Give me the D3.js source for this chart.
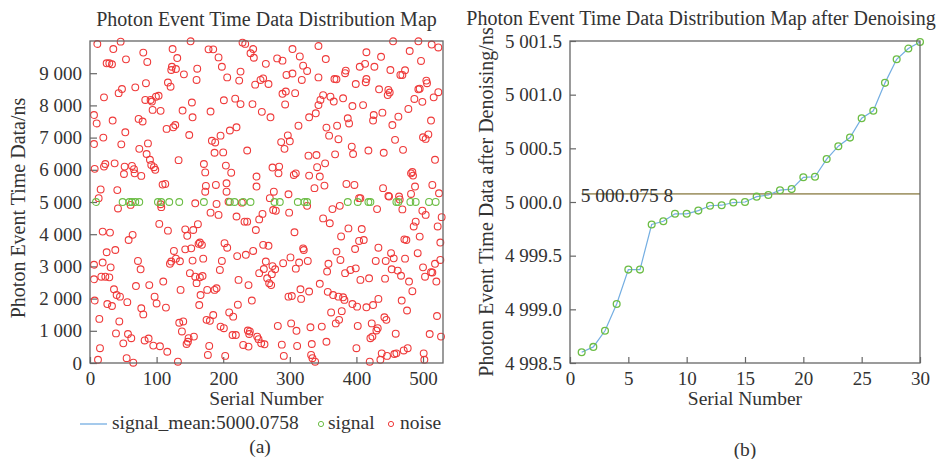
<!DOCTYPE html>
<html>
<head>
<meta charset="utf-8">
<script src="https://cdn.jsdelivr.net/npm/d3@7"></script>
<style>
body { margin: 0; background: #fff; }
text { font-family: "Liberation Serif", "DejaVu Serif", serif; fill: #333; }
.frame { fill: none; stroke: #666; stroke-width: 1.3; }
.axis path { display: none; }
.axis line { stroke: #666; stroke-width: 1.2; }
.axis text { font-size: 19px; font-family: "Liberation Serif", serif; fill: #333; }
</style>
</head>
<body>
<div id="chartArea"></div>
<script>
///////////////////////////// DATA /////////////////////////////////////

// [serial number, time (ns)]
var noisePoints = [
    [11,9907],[46,9980],[151,9990],[229,9950],[233,9910],[455,9990],[493,9990],[513,9890],[523,9800],[35,9750],[178,9740],[185,9740],[245,9750],[304,9750],[343,9845],[480,9690],[415,9650],[80,9640],[25,9307],[29,9307],[33,9276],[54,9430],[86,9350],[124,9750],[131,9470],[193,9490],[241,9620],[246,9480],[264,9290],[281,9460],[289,9390],[315,9520],[320,9235],[326,9070],[354,9440],[405,9200],[413,9290],[427,9200],[437,9510],[497,9380],
    [123,9200],[122,9100],[129,9130],[141,8965],[161,9140],[160,8790],[198,9200],[206,8870],[224,8770],[226,9050],[248,8645],[256,8790],[260,8840],[268,8665],[295,8945],[304,8990],[318,8790],[343,8870],[367,8820],[370,8810],[384,9080],[383,9000],[451,9100],[466,8945],[469,8945],[473,9090],[505,8770],[506,8690],[495,8520],[493,8500],[415,8820],[414,8720],[399,8665],
    [68,8560],[84,8690],[117,8710],[121,8580],[48,8510],[43,8380],[21,8250],[83,8170],[91,8170],[93,8120],[99,8270],[103,8300],[153,8090],[201,8160],[218,8210],[226,8040],[244,8040],[289,8360],[294,8430],[293,8030],[308,8380],[350,8320],[346,8170],[343,8010],[361,8270],[366,8120],[380,8220],[394,7980],[410,8010],[434,8500],[448,8480],[447,8320],[450,8400],[487,8200],[499,8110],[516,8250],[523,8410],
    [6,7700],[10,7440],[34,7530],[73,7580],[79,7500],[94,7860],[106,7830],[139,7840],[154,7630],[181,7810],[258,7800],[271,7630],[329,7630],[339,7755],[387,7600],[389,7440],[426,7700],[425,7530],[439,7775],[463,7650],[478,7890],[512,7530],
    [115,7270],[125,7320],[128,7390],[149,7080],[53,7165],[20,7000],[6,6800],[47,6790],[87,6820],[74,6650],[183,6900],[188,6850],[196,7060],[210,7220],[220,7320],[313,7370],[355,7310],[359,7060],[371,7370],[373,6950],[297,7070],[287,6860],[300,6885],[292,6650],[236,6600],[187,6530],[200,6540],[393,6720],[395,6490],[418,6600],[441,6530],[458,6930],[470,6620],[500,7010],[504,6960],[508,7100],[454,7390],
    [85,6490],[90,6310],[133,6300],[92,6150],[96,6080],[98,6000],[37,6200],[23,6180],[21,6100],[7,6030],[52,6100],[63,6120],[66,6020],[67,5890],[51,5870],[77,5810],[171,6180],[173,5920],[204,6130],[212,5910],[250,5790],[274,6070],[284,6100],[283,5890],[306,5840],[309,5890],[329,5820],[341,6080],[345,5790],[353,6200],[368,6480],[328,6440],[340,6460],[482,5890],[484,5930],[485,5820],[518,6310],
    [16,5390],[41,5370],[109,5540],[113,5560],[174,5500],[173,5320],[189,5530],[205,5580],[205,5320],[250,5480],[276,5320],[298,5240],[337,5430],[352,5510],[385,5560],[397,5530],[404,5120],[440,5430],[448,5190],[464,5170],[482,5250],[488,5480],[514,5530],[524,5270],[13,5120],
    [42,4800],[61,4910],[107,4840],[106,4930],[158,4960],[190,4940],[193,4600],[181,4670],[208,5010],[228,4980],[220,4550],[232,4390],[236,4390],[249,4130],[254,4460],[259,4630],[270,5120],[275,4750],[279,4730],[299,4670],[326,4880],[350,4490],[360,4340],[364,4780],[375,4880],[406,5120],[431,4780],[449,5170],[465,5080],[469,4770],[499,4730],[504,4600],[528,4530],[489,4390],[486,4240],[522,4240],[526,3740],
    [19,4080],[30,4050],[58,3820],[64,3980],[104,4320],[117,4110],[143,4150],[146,3950],[155,4130],[162,4310],[307,4060],[377,3930],[388,4180],[408,4160],[404,3790],[411,3820],[398,3540],[433,3580],[452,3410],[456,3250],[472,3840],[475,3820],[495,3925],[492,3410],[473,3240],[500,2970],[512,2820],[518,3080],[526,3200],
    [25,3440],[38,3510],[72,3170],[76,2910],[126,3480],[120,3080],[122,3150],[129,3240],[135,3160],[143,3530],[152,3560],[165,3740],[163,3700],[168,3670],[170,3240],[154,3180],[150,2790],[158,2680],[160,2480],[165,2660],[169,2700],[195,2890],[198,3170],[202,3720],[206,3580],[221,3320],[234,3360],[245,3480],[260,3670],[268,3640],[264,3150],[274,3010],[261,2920],[278,2910],[273,2760],[266,2630],[269,2480],[272,2420],[254,2790],[238,2420],[223,2580],[290,3100],[301,3280],[314,3120],[309,2930],[321,3510],[320,3560],[327,3170],[358,3080],[356,2840],[370,3460],[376,3200],[383,2790],[391,2890],[399,2940],[406,2580],[419,2630],[429,3170],[444,3170],[443,2620],[453,2910],[462,2870],[467,2710],[479,2530],[484,2230],[503,2680],[514,2810],[520,2530],
    [6,3050],[19,3120],[31,2970],[6,2600],[17,2680],[23,2680],[29,2660],[36,2290],[40,2110],[45,2060],[69,2390],[89,2420],[110,2530],[136,2270],[166,2110],[176,2270],[187,2270],[190,2320],[298,2060],[303,2080],[317,1990],[316,2290],[329,2220],[345,2460],[357,2210],[365,2110],[373,2060],[380,2040],[382,1960],[394,1830],[401,1750],[415,1730],[425,1800],[433,1990],[468,1940],
    [7,1940],[26,1830],[33,1770],[56,1890],[77,1700],[80,1510],[97,2060],[100,1850],[114,1720],[164,1800],[222,1810],[243,1940],[185,1490],[175,1340],[180,1310],[196,1130],[201,1080],[209,1570],[215,1440],[214,870],[219,870],[237,1010],[240,980],[239,900],[251,820],[253,740],[262,580],[282,1150],[302,1230],[310,1000],[331,1110],[348,1130],[355,660],[362,1570],[369,1230],[378,1610],[374,1340],[402,1150],[423,1230],[430,1010],[432,1080],[442,1420],[445,1340],[459,910],[476,1630],[521,1460],
    [14,1370],[44,1290],[39,920],[57,900],[62,770],[50,610],[82,700],[88,760],[95,540],[105,520],[116,350],[134,1250],[140,1290],[138,980],[148,770],[147,660],[145,590],[156,820],[179,530],[177,250],[203,220],[230,560],[238,510],[257,610],[288,570],[291,220],[311,530],[332,250],[334,150],[338,40],[333,590],[400,460],[421,770],[424,820],[420,40],[438,300],[436,100],[446,220],[457,280],[460,300],[471,390],[477,460],[501,300],[502,100],[510,900],[527,820],[15,460],[12,100],[55,150],[65,10],[132,40]
];

// serial numbers of the signal photons (green row at ~5000 ns)
var signalSerial = [9, 49, 59, 63, 68, 74, 102, 107, 119, 134, 171, 210, 217, 230, 241, 277, 285, 312, 322, 326, 387, 402, 418, 421, 460, 463, 481, 489, 509, 519];

// sorted signal times after denoising (right panel), serial 1..30
var denoisedTime = [4998.60, 4998.65, 4998.80, 4999.05, 4999.37, 4999.37, 4999.79, 4999.82, 4999.89, 4999.89,
    4999.92, 4999.965, 4999.97, 4999.995, 5000.00, 5000.05, 5000.065, 5000.11, 5000.12, 5000.23,
    5000.235, 5000.40, 5000.52, 5000.60, 5000.78, 5000.85, 5001.11, 5001.33, 5001.43, 5001.49];

var signalMean = 5000.0758;
var meanLabel = "5 000.075 8";

var xTicksLeft = [0, 100, 200, 300, 400, 500];
var yTicksLeft = [0, 1000, 2000, 3000, 4000, 5000, 6000, 7000, 8000, 9000];
var xTicksRight = [0, 5, 10, 15, 20, 25, 30];
var yTicksRight = [4998.5, 4999.0, 4999.5, 5000.0, 5000.5, 5001.0, 5001.5];

var legendLabels = ["signal_mean:5000.0758", "signal", "noise"];

var colorNoise = "#ef3a3a",
    colorSignal = "#6cbd45",
    colorLine = "#74aee2",
    colorMean = "#a79c72";

var spaceFormat = d3.formatLocale({ decimal: ".", thousands: " ", grouping: [3], currency: ["", ""] });

///////////////////////////// SVG /////////////////////////////////////

var svg = d3.select("#chartArea").append("svg")
    .attr("width", 939)
    .attr("height", 459);

svg.append("rect").attr("width", 939).attr("height", 459).attr("fill", "#fff");

///////////////////////////// LEFT PANEL /////////////////////////////////////

margin_left = { top: 41, left: 90 },
    width_left = 353,
    height_left = 322;

x_left = d3.scaleLinear().domain([0, 530]).range([0, width_left]);
y_left = d3.scaleLinear().domain([0, 10000]).range([height_left, 0]);

var left = svg.append("g")
    .attr("transform", "translate(" + margin_left.left + "," + margin_left.top + ")");

left.append("g")
    .attr("class", "axis")
    .attr("transform", "translate(0," + height_left + ")")
    .call(d3.axisBottom(x_left).tickValues(xTicksLeft).tickSizeInner(-6).tickSizeOuter(0).tickPadding(9));

left.append("g")
    .attr("class", "axis")
    .call(d3.axisLeft(y_left).tickValues(yTicksLeft).tickSizeInner(-7).tickSizeOuter(0).tickPadding(8)
        .tickFormat(spaceFormat.format(",d")));

// noise dots
left.selectAll(".noise")
    .data(noisePoints)
    .enter().append("circle")
    .attr("class", "noise")
    .attr("r", 3.4)
    .attr("cx", function(d) { return x_left(d[0]); })
    .attr("cy", function(d) { return y_left(d[1]); })
    .style("fill", "none")
    .style("stroke", colorNoise)
    .style("stroke-width", 1.1);

// signal dots
left.selectAll(".signal")
    .data(signalSerial)
    .enter().append("circle")
    .attr("class", "signal")
    .attr("r", 3.4)
    .attr("cx", function(d) { return x_left(d); })
    .attr("cy", function(d, i) { return y_left(denoisedTime[i]); })
    .style("fill", "none")
    .style("stroke", colorSignal)
    .style("stroke-width", 1.1);

left.append("rect")
    .attr("class", "frame")
    .attr("width", width_left)
    .attr("height", height_left);

svg.append("text")
    .attr("x", margin_left.left + width_left / 2)
    .attr("y", 26)
    .style("text-anchor", "middle")
    .style("font-size", "20px")
    .text("Photon Event Time Data Distribution Map");

svg.append("text")
    .attr("transform", "translate(25," + (margin_left.top + height_left / 2 + 6) + ") rotate(-90)")
    .style("text-anchor", "middle")
    .style("font-size", "20px")
    .text("Photon Event Time Data/ns");

svg.append("text")
    .attr("x", margin_left.left + width_left / 2)
    .attr("y", 405)
    .style("text-anchor", "middle")
    .style("font-size", "19.5px")
    .text("Serial Number");

// legend
var legend = svg.append("g").attr("transform", "translate(0,424)");
legend.append("line")
    .attr("x1", 80).attr("x2", 107).attr("y1", 0).attr("y2", 0)
    .style("stroke", colorLine).style("stroke-width", 1.3);
legend.append("text").attr("x", 112).attr("y", 5).style("font-size", "19.5px").text(legendLabels[0]);
legend.append("circle").attr("cx", 321).attr("cy", 0).attr("r", 2.6)
    .style("fill", "none").style("stroke", colorSignal).style("stroke-width", 1);
legend.append("text").attr("x", 328).attr("y", 5).style("font-size", "19.5px").text(legendLabels[1]);
legend.append("circle").attr("cx", 391).attr("cy", 0).attr("r", 2.6)
    .style("fill", "none").style("stroke", colorNoise).style("stroke-width", 1);
legend.append("text").attr("x", 400).attr("y", 5).style("font-size", "19.5px").text(legendLabels[2]);

svg.append("text")
    .attr("x", 260)
    .attr("y", 453)
    .style("text-anchor", "middle")
    .style("font-size", "19.5px")
    .text("(a)");

///////////////////////////// RIGHT PANEL /////////////////////////////////////

margin_right = { top: 41, left: 570 },
    width_right = 350,
    height_right = 322;

x_right = d3.scaleLinear().domain([0, 30]).range([0, width_right]);
y_right = d3.scaleLinear().domain([4998.5, 5001.5]).range([height_right, 0]);

var right = svg.append("g")
    .attr("transform", "translate(" + margin_right.left + "," + margin_right.top + ")");

right.append("g")
    .attr("class", "axis")
    .attr("transform", "translate(0," + height_right + ")")
    .call(d3.axisBottom(x_right).tickValues(xTicksRight).tickSizeInner(-6).tickSizeOuter(0).tickPadding(9));

right.append("g")
    .attr("class", "axis")
    .call(d3.axisLeft(y_right).tickValues(yTicksRight).tickSizeInner(-6).tickSizeOuter(0).tickPadding(8)
        .tickFormat(spaceFormat.format(",.1f")));

// mean line
right.append("line")
    .attr("x1", x_right(1))
    .attr("x2", x_right(30))
    .attr("y1", y_right(signalMean))
    .attr("y2", y_right(signalMean))
    .style("stroke", colorMean)
    .style("stroke-width", 1.6);

right.append("text")
    .attr("x", x_right(1) - 1)
    .attr("y", y_right(signalMean) + 8)
    .style("font-size", "19.5px")
    .text(meanLabel);

var line = d3.line()
    .x(function(d, i) { return x_right(i + 1); })
    .y(function(d) { return y_right(d); });

right.append("path")
    .datum(denoisedTime)
    .attr("d", line)
    .style("fill", "none")
    .style("stroke", colorLine)
    .style("stroke-width", 1.2);

right.selectAll(".dot")
    .data(denoisedTime)
    .enter().append("circle")
    .attr("class", "dot")
    .attr("r", 3.4)
    .attr("cx", function(d, i) { return x_right(i + 1); })
    .attr("cy", function(d) { return y_right(d); })
    .style("fill", "none")
    .style("stroke", colorSignal)
    .style("stroke-width", 1.3);

right.append("rect")
    .attr("class", "frame")
    .attr("width", width_right)
    .attr("height", height_right);

svg.append("text")
    .attr("x", 701)
    .attr("y", 25)
    .style("text-anchor", "middle")
    .style("font-size", "20px")
    .text("Photon Event Time Data Distribution Map after Denoising");

svg.append("text")
    .attr("transform", "translate(493," + (margin_right.top + height_right / 2) + ") rotate(-90)")
    .style("text-anchor", "middle")
    .style("font-size", "20px")
    .text("Photon Event Time Data after Denoising/ns");

svg.append("text")
    .attr("x", margin_right.left + width_right / 2)
    .attr("y", 405)
    .style("text-anchor", "middle")
    .style("font-size", "19.5px")
    .text("Serial Number");

svg.append("text")
    .attr("x", margin_right.left + width_right / 2)
    .attr("y", 456)
    .style("text-anchor", "middle")
    .style("font-size", "19.5px")
    .text("(b)");
</script>
</body>
</html>
